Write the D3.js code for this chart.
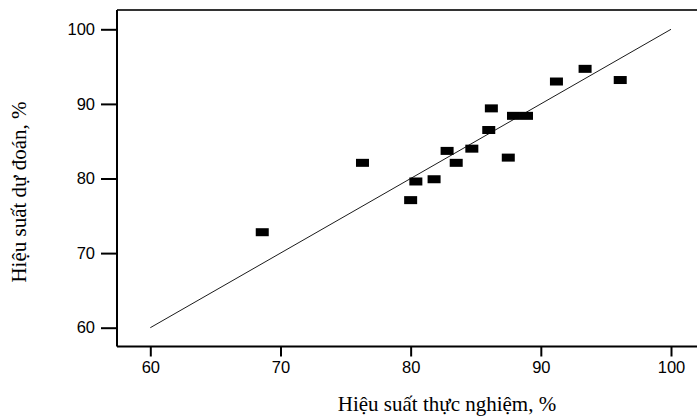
<!DOCTYPE html>
<html lang="vi">

<head>
    <meta charset="UTF-8">
    <title>Hiệu suất thực nghiệm vs dự đoán</title>
    <script src="https://d3js.org/d3.v7.min.js"></script>
    <style>
        body { margin: 0; background: #fff; }
        .tick text { font-family: "Liberation Sans", Arial, sans-serif; font-size: 16.5px; fill: #000; }
        .title { font-family: "Liberation Serif", "Times New Roman", serif; font-size: 21px; fill: #000; }
    </style>
</head>

<body>
    <svg width="697" height="417"></svg>

    <script>
        // thực nghiệm (x) và dự đoán (y)
        const actual    = [68.6, 76.3, 80.0, 80.4, 81.8, 82.8, 83.5, 84.7, 86.0, 86.2, 87.5, 87.9, 88.9, 91.2, 93.4, 96.1];
        const predicted = [72.8, 82.1, 77.1, 79.6, 79.9, 83.7, 82.1, 84.0, 86.5, 89.4, 82.8, 88.4, 88.4, 93.0, 94.7, 93.2];
        const ticks = [60, 70, 80, 90, 100];
        const fitLine = [60, 100];

        const svg = d3.select("svg");
        const pLeft = 117, pTop = 10, pRight = 697, pBottom = 346.5;

        const x = d3.scaleLinear().domain([60, 100]).range([150.3, 671]);
        const y = d3.scaleLinear().domain([60, 100]).range([327.7, 29.3]);

        // khung trên
        svg.append("line")
            .attr("x1", pLeft).attr("x2", pRight)
            .attr("y1", pTop).attr("y2", pTop)
            .attr("stroke", "#333").attr("stroke-width", 2);

        const xAxis = svg.append("g")
            .attr("transform", `translate(0,${pBottom})`)
            .call(d3.axisBottom(x).tickValues(ticks).tickSize(10).tickPadding(5).tickSizeOuter(0));
        xAxis.select(".domain").attr("d", `M${pLeft},0H${pRight}`).attr("stroke-width", 2);
        xAxis.selectAll(".tick line").attr("stroke-width", 2);

        const yAxis = svg.append("g")
            .attr("transform", `translate(${pLeft},0)`)
            .call(d3.axisLeft(y).tickValues(ticks).tickSize(16).tickPadding(6).tickSizeOuter(0));
        yAxis.select(".domain").attr("d", `M0,${pTop}V${pBottom}`).attr("stroke-width", 2);
        yAxis.selectAll(".tick line").attr("stroke-width", 2);

        // đường y = x
        svg.append("line")
            .attr("x1", x(fitLine[0])).attr("y1", y(fitLine[0]))
            .attr("x2", x(fitLine[1])).attr("y2", y(fitLine[1]))
            .attr("stroke", "#000").attr("stroke-width", 0.9);

        svg.selectAll(".pt")
            .data(actual)
            .enter()
            .append("rect")
            .attr("class", "pt")
            .attr("x", d => x(d) - 6.5)
            .attr("y", (d, i) => y(predicted[i]) - 4)
            .attr("width", 13)
            .attr("height", 8)
            .attr("fill", "#000");

        svg.append("text")
            .attr("class", "title")
            .attr("x", 447).attr("y", 411)
            .attr("text-anchor", "middle")
            .text("Hiệu suất thực nghiệm, %");

        svg.append("text")
            .attr("class", "title")
            .attr("transform", "translate(26,192) rotate(-90)")
            .attr("text-anchor", "middle")
            .text("Hiệu suất dự đoán, %");
    </script>
</body>

</html>
